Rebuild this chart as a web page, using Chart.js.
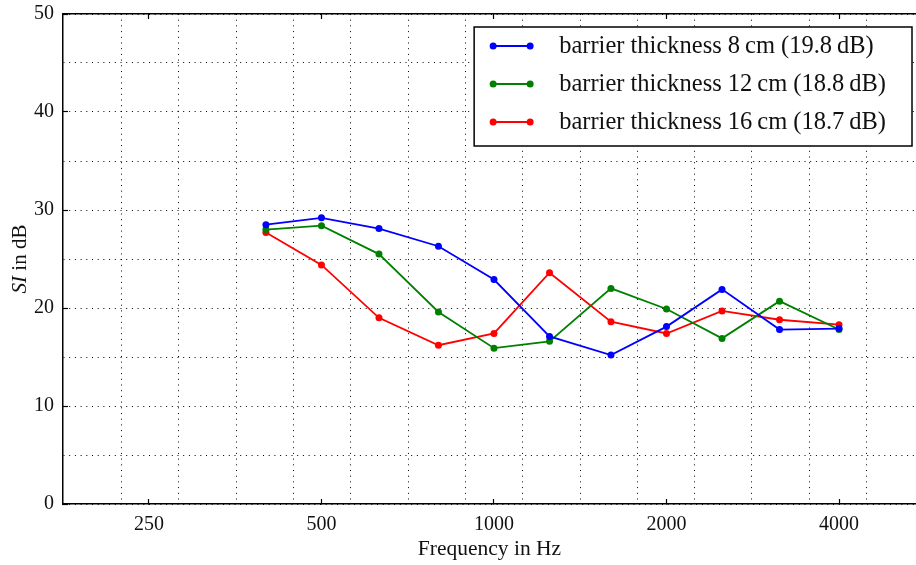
<!DOCTYPE html>
<html>
<head>
<meta charset="utf-8">
<script src="https://cdn.jsdelivr.net/npm/chart.js@4.4.0/dist/chart.umd.min.js"></script>
<style>
  html, body { margin: 0; padding: 0; background: #fff; overflow: hidden; }
  #wrap { width: 920px; height: 565px; }
</style>
</head>
<body>
<div id="wrap"><canvas id="chart"></canvas></div>
<script>
// third-octave band centre frequencies (Hz)
const frequencies = [400, 500, 630, 800, 1000, 1250, 1600, 2000, 2500, 3150, 4000];

// sound insulation per band (dB)
const thickness8cm  = [28.5, 29.2, 28.1, 26.3, 22.9, 17.1, 15.2, 18.1, 21.9, 17.8, 17.9];
const thickness12cm = [28.0, 28.4, 25.5, 19.6, 15.9, 16.6, 22.0, 19.9, 16.9, 20.7, 17.8];
const thickness16cm = [27.7, 24.4, 19.0, 16.2, 17.4, 23.6, 18.6, 17.4, 19.7, 18.8, 18.3];

const seriesLabels = [
    'barrier thickness 8\u2009cm (19.8\u2009dB)',
    'barrier thickness 12\u2009cm (18.8\u2009dB)',
    'barrier thickness 16\u2009cm (18.7\u2009dB)'
];
const seriesColors = ['#0000ff', '#008000', '#ff0000'];

// labelled x ticks and the band edges used for the dotted grid
const xTickLabels = [250, 500, 1000, 2000, 4000];
const bandEdges = [224, 282, 355, 447, 562, 708, 891, 1122, 1413, 1778, 2239, 2818, 3548, 4467];
const xMin = 177;
const xMax = 5450;

const FONT = '"Liberation Serif", "Times New Roman", serif';
const DOTS = [1, 4.7];

// legend drawn as a framed box inside the plot, like the original
const boxedLegend = {
    id: 'boxedLegend',
    afterDraw(chart) {
        const { ctx, chartArea } = chart;
        const sets = chart.data.datasets;
        // the page window is 916 px wide; the canvas runs a little past it
        const right = Math.min(chartArea.right, chart.width - 4);
        ctx.save();
        ctx.font = '24.5px ' + FONT;
        const textW = Math.max(...sets.map(d => ctx.measureText(d.label).width));
        const rowH = 38;
        const w = 85 + textW + 26;
        const h = 119;
        const x0 = right - 4 - w;
        const y0 = chartArea.top + 13;
        ctx.fillStyle = '#fff';
        ctx.fillRect(x0, y0, w, h);
        ctx.lineWidth = 1.5;
        ctx.strokeStyle = '#000';
        ctx.strokeRect(x0, y0, w, h);
        sets.forEach((ds, i) => {
            const y = y0 + 19 + i * rowH;
            ctx.strokeStyle = ds.borderColor;
            ctx.fillStyle = ds.borderColor;
            ctx.lineWidth = 1.8;
            ctx.beginPath();
            ctx.moveTo(x0 + 19, y);
            ctx.lineTo(x0 + 56, y);
            ctx.stroke();
            [x0 + 19, x0 + 56].forEach(px => {
                ctx.beginPath();
                ctx.arc(px, y, 3.5, 0, Math.PI * 2);
                ctx.fill();
            });
            ctx.fillStyle = '#111';
            ctx.textBaseline = 'middle';
            ctx.textAlign = 'left';
            ctx.fillText(ds.label, x0 + 85, y + 1);
        });
        ctx.restore();
    }
};

// y axis title with italic "SI"
const yTitle = {
    id: 'yTitle',
    afterDraw(chart) {
        const { ctx, chartArea } = chart;
        ctx.save();
        ctx.translate(20, (chartArea.top + chartArea.bottom) / 2);
        ctx.rotate(-Math.PI / 2);
        ctx.textBaseline = 'middle';
        ctx.fillStyle = '#111';
        const italic = 'italic 21px ' + FONT;
        const normal = '21px ' + FONT;
        ctx.font = italic;
        const w1 = ctx.measureText('SI').width;
        ctx.font = normal;
        const w2 = ctx.measureText(' in dB').width;
        const start = -(w1 + w2) / 2;
        ctx.font = italic;
        ctx.textAlign = 'left';
        ctx.fillText('SI', start, 0);
        ctx.font = normal;
        ctx.fillText(' in dB', start + w1, 0);
        ctx.restore();
    }
};

const makeDataset = (label, values, color) => ({
    label,
    data: frequencies.map((f, i) => ({ x: f, y: values[i] })),
    borderColor: color,
    backgroundColor: color,
    borderWidth: 1.8,
    pointRadius: 3.5,
    pointBorderWidth: 0,
    pointBackgroundColor: color,
    tension: 0,
    xAxisID: 'x',
    yAxisID: 'y'
});

// keep the plot box flush with the canvas edges
const noEdgePadding = s => {
    s.paddingTop = 0;
    s.paddingBottom = 0;
    s.paddingLeft = 0;
    s.paddingRight = 0;
};

new Chart(document.getElementById('chart'), {
    type: 'line',
    data: {
        datasets: [
            makeDataset(seriesLabels[0], thickness8cm, seriesColors[0]),
            makeDataset(seriesLabels[1], thickness12cm, seriesColors[1]),
            makeDataset(seriesLabels[2], thickness16cm, seriesColors[2])
        ]
    },
    options: {
        responsive: true,
        maintainAspectRatio: false,
        animation: false,
        layout: { padding: { top: 14, left: 0, right: 0, bottom: 0 } },
        plugins: {
            legend: { display: false },
            tooltip: { enabled: false }
        },
        scales: {
            x: {
                type: 'logarithmic',
                position: 'bottom',
                min: xMin,
                max: xMax,
                afterBuildTicks: s => { s.ticks = xTickLabels.map(v => ({ value: v })); },
                afterFit: s => { s.height = 61; noEdgePadding(s); },
                grid: {
                    drawOnChartArea: false,
                    tickLength: -5,
                    tickColor: '#000',
                    tickWidth: 1.2
                },
                border: { display: true, color: '#000', width: 1.5 },
                ticks: {
                    autoSkip: false,
                    maxRotation: 0,
                    padding: 14,
                    color: '#111',
                    font: { family: FONT, size: 20 },
                    callback: v => String(v)
                },
                title: {
                    display: true,
                    text: 'Frequency in Hz',
                    color: '#111',
                    font: { family: FONT, size: 21.5 },
                    padding: { top: 0, bottom: 3 }
                }
            },
            xGrid: {
                type: 'logarithmic',
                position: 'bottom',
                min: xMin,
                max: xMax,
                afterBuildTicks: s => { s.ticks = bandEdges.map(v => ({ value: v })); },
                afterFit: s => { s.height = 0; noEdgePadding(s); },
                grid: { color: '#000', lineWidth: 1, drawTicks: false },
                border: { display: false, dash: DOTS },
                ticks: { display: false, autoSkip: false }
            },
            xTop: {
                type: 'logarithmic',
                position: 'top',
                min: xMin,
                max: xMax,
                afterBuildTicks: s => { s.ticks = xTickLabels.map(v => ({ value: v })); },
                afterFit: s => { s.height = 0; noEdgePadding(s); },
                grid: {
                    drawOnChartArea: false,
                    tickLength: -5,
                    tickColor: '#000',
                    tickWidth: 1.2
                },
                border: { display: true, color: '#000', width: 1.5 },
                ticks: { display: false, autoSkip: false }
            },
            y: {
                min: 0,
                max: 50,
                afterFit: s => { s.width = 63; noEdgePadding(s); },
                grid: {
                    color: '#000',
                    lineWidth: 1,
                    tickLength: -5,
                    tickWidth: 1.2,
                    tickColor: c => (c.tick && c.tick.value % 10 === 0 ? '#000' : 'rgba(0,0,0,0)')
                },
                border: { display: true, color: '#000', width: 1.5, dash: DOTS },
                ticks: {
                    stepSize: 5,
                    padding: 14,
                    color: '#111',
                    font: { family: FONT, size: 20 },
                    callback: v => (v % 10 === 0 ? String(v) : '')
                }
            }
        }
    },
    plugins: [boxedLegend, yTitle]
});
</script>
</body>
</html>
